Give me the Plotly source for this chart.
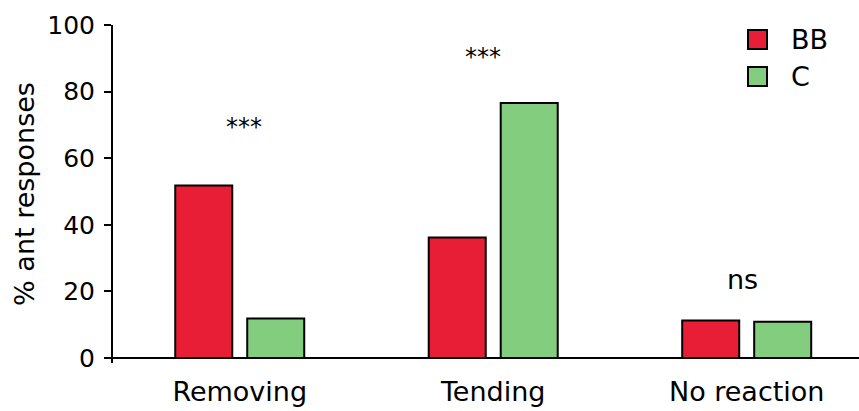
import plotly.graph_objects as go

categories = ["Removing", "Tending", "No reaction"]
bb_values = [51.8, 36.2, 11.3]
c_values = [11.9, 76.6, 10.9]
significance = ["***", "***", "ns"]
sig_heights = [69.5, 90.5, 23.5]
y_ticks = [0, 20, 40, 60, 80, 100]

RED = "#E81D36"
GREEN = "#83CE7E"
FONT = "DejaVu Sans"

x_pos = list(range(len(categories)))

fig = go.Figure()
fig.add_trace(go.Bar(
    x=x_pos, y=bb_values, name="BB",
    marker=dict(color=RED, line=dict(color="black", width=2)),
    showlegend=False,
))
fig.add_trace(go.Bar(
    x=x_pos, y=c_values, name="C",
    marker=dict(color=GREEN, line=dict(color="black", width=2)),
    showlegend=False,
))

# significance marks above each group
sig_shift = [0.015, -0.04, -0.015]
for i, (txt, h) in enumerate(zip(significance, sig_heights)):
    is_star = txt.startswith("*")
    fig.add_annotation(
        x=i + sig_shift[i], y=h, text=txt, showarrow=False,
        font=dict(family=FONT, size=24 if is_star else 27, color="black"),
        yanchor="middle",
    )

# legend drawn as swatches + labels
legend_items = [("BB", RED), ("C", GREEN)]
plot_left, plot_right = 113, 859
plot_top, plot_bottom = 25, 363
def px_to_paper_x(px):
    return (px - plot_left) / (plot_right - plot_left)
def px_to_paper_y(py):
    return (plot_bottom - py) / (plot_bottom - plot_top)

for k, (label, color) in enumerate(legend_items):
    top = 30 + k * 37
    fig.add_shape(
        type="rect", xref="paper", yref="paper",
        x0=px_to_paper_x(748), x1=px_to_paper_x(767),
        y0=px_to_paper_y(top + 19), y1=px_to_paper_y(top),
        fillcolor=color, line=dict(color="black", width=2),
    )
    fig.add_annotation(
        xref="paper", yref="paper",
        x=px_to_paper_x(789), y=px_to_paper_y(top + 9.5),
        text=label, showarrow=False, xanchor="left", yanchor="middle",
        font=dict(family=FONT, size=27, color="black"),
    )

fig.update_layout(
    width=859, height=411,
    margin=dict(l=113, r=0, t=25, b=48),
    paper_bgcolor="white", plot_bgcolor="white",
    barmode="group", bargap=0.432, bargroupgap=0.208,
    font=dict(family=FONT, color="black"),
)
fig.update_xaxes(
    range=[-0.5, 2.443],
    tickmode="array", tickvals=x_pos, ticktext=categories,
    showline=False, showgrid=False, zeroline=False, ticks="",
    tickfont=dict(family=FONT, size=27, color="black"),
    ticklabelstandoff=10,
)
fig.update_yaxes(
    range=[-1.5, 100],
    tickmode="array", tickvals=y_ticks,
    showline=True, linecolor="black", linewidth=2,
    ticks="outside", ticklen=7, tickwidth=2, tickcolor="black",
    showgrid=False, zeroline=True, zerolinecolor="black", zerolinewidth=2,
    tickfont=dict(family=FONT, size=25, color="black"),
    title=dict(text="% ant responses", font=dict(family=FONT, size=27, color="black"), standoff=5),
    ticklabelstandoff=4,
)

fig.write_html("out.html")
